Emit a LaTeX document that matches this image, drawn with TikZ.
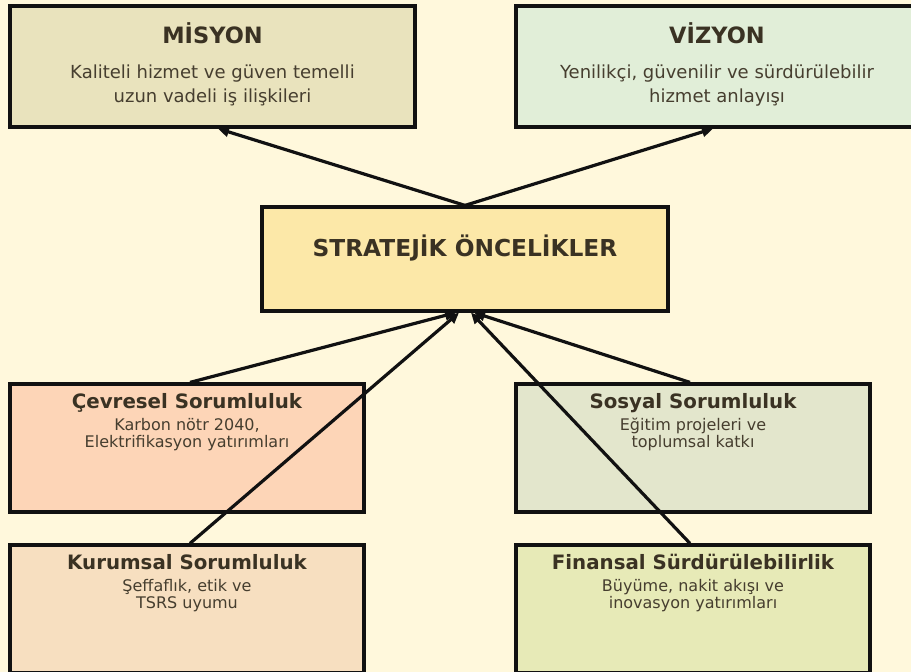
\documentclass[tikz,border=0pt]{standalone}
\usepackage{fontspec}
\setmainfont{DejaVu Sans}
\usetikzlibrary{arrows.meta,calc}

\definecolor{bgcol}{HTML}{FFF8DC}
\definecolor{edgecol}{HTML}{111111}
\definecolor{titlecol}{HTML}{3A3223}
\definecolor{bodycol}{HTML}{463E2F}
\definecolor{misyonfill}{HTML}{E9E3BD}
\definecolor{vizyonfill}{HTML}{E1EED8}
\definecolor{stratfill}{HTML}{FCE8A8}
\definecolor{cevrefill}{HTML}{FDD5B7}
\definecolor{sosyalfill}{HTML}{E3E6CC}
\definecolor{kurumfill}{HTML}{F7DFC0}
\definecolor{finansfill}{HTML}{E7EAB7}

\begin{document}
\begin{tikzpicture}[x=1pt,y=-1pt,
  panel/.style={draw=edgecol, line width=3.2pt, inner sep=0pt},
  bigtitle/.style={anchor=base, inner sep=0pt, text=titlecol, font=\bfseries\fontsize{22.5}{26}\selectfont},
  bigtext/.style={anchor=base, inner sep=0pt, text=bodycol, font=\fontsize{18}{21}\selectfont},
  smalltitle/.style={anchor=base, inner sep=0pt, text=titlecol, font=\bfseries\fontsize{19.8}{23}\selectfont},
  smalltext/.style={anchor=base, inner sep=0pt, text=bodycol, font=\fontsize{16}{19}\selectfont},
  arr/.style={draw=edgecol, line width=3.2pt, -{Triangle[length=11pt,width=10pt]}}]

% canvas
\fill[bgcol] (0,0) rectangle (911,672);
\useasboundingbox (0,0) rectangle (911,672);

% panels
\node[panel, fill=misyonfill, minimum width=405pt, minimum height=121pt] (misyon) at (212.5,66.5) {};
\node[panel, fill=vizyonfill, minimum width=402pt, minimum height=121pt] (vizyon) at (717,66.5) {};
\node[panel, fill=stratfill,  minimum width=406pt, minimum height=104pt] (strat)  at (465,259) {};
\node[panel, fill=cevrefill,  minimum width=354pt, minimum height=128pt] (cevre)  at (187,448) {};
\node[panel, fill=sosyalfill, minimum width=354pt, minimum height=128pt] (sosyal) at (693,448) {};
\node[panel, fill=kurumfill,  minimum width=354pt, minimum height=128pt] (kurum)  at (187,609) {};
\node[panel, fill=finansfill, minimum width=354pt, minimum height=128pt] (finans) at (693,609) {};

% top panels
\node[bigtitle] (misyonT)  at ($(misyon.north)+(0,39)$) {MİSYON};
\node[bigtext]  (misyonL1) at ($(misyon.north)+(0,74.5)$) {Kaliteli hizmet ve güven temelli};
\node[bigtext]  (misyonL2) at ($(misyon.north)+(0,98.5)$) {uzun vadeli iş ilişkileri};

\node[bigtitle] (vizyonT)  at ($(vizyon.north)+(0,39)$) {VİZYON};
\node[bigtext]  (vizyonL1) at ($(vizyon.north)+(0,74.5)$) {Yenilikçi, güvenilir ve sürdürülebilir};
\node[bigtext]  (vizyonL2) at ($(vizyon.north)+(0,98.5)$) {hizmet anlayışı};

% centre panel
\node[bigtitle, font=\bfseries\fontsize{23.3}{27}\selectfont] (stratT) at ($(strat.north)+(0,51)$) {STRATEJİK ÖNCELİKLER};

% bottom panels
\node[smalltitle] (cevreT)  at ($(cevre.north)+(0,26)$) {Çevresel Sorumluluk};
\node[smalltext]  (cevreL1) at ($(cevre.north)+(0,48)$) {Karbon nötr 2040,};
\node[smalltext]  (cevreL2) at ($(cevre.north)+(0,65.5)$) {Elektrifikasyon yatırımları};

\node[smalltitle] (sosyalT)  at ($(sosyal.north)+(0,26)$) {Sosyal Sorumluluk};
\node[smalltext]  (sosyalL1) at ($(sosyal.north)+(0,48)$) {Eğitim projeleri ve};
\node[smalltext]  (sosyalL2) at ($(sosyal.north)+(0,65.5)$) {toplumsal katkı};

\node[smalltitle] (kurumT)  at ($(kurum.north)+(0,26)$) {Kurumsal Sorumluluk};
\node[smalltext]  (kurumL1) at ($(kurum.north)+(0,48)$) {Şeffaflık, etik ve};
\node[smalltext]  (kurumL2) at ($(kurum.north)+(0,65.5)$) {TSRS uyumu};

\node[smalltitle] (finansT)  at ($(finans.north)+(0,26)$) {Finansal Sürdürülebilirlik};
\node[smalltext]  (finansL1) at ($(finans.north)+(0,48)$) {Büyüme, nakit akışı ve};
\node[smalltext]  (finansL2) at ($(finans.north)+(0,65.5)$) {inovasyon yatırımları};

% connectors
\draw[arr] (strat.north) -- ($(misyon.south)+(5.5,0)$);
\draw[arr] (strat.north) -- ($(vizyon.south)+(-4,0)$);
\draw[arr] ($(cevre.north)+(3,0)$)  -- ($(strat.south)+(-9,0)$);
\draw[arr] ($(kurum.north)+(3,0)$)  -- ($(strat.south)+(-6,0)$);
\draw[arr] ($(sosyal.north)+(-3,0)$) -- ($(strat.south)+(9,0)$);
\draw[arr] ($(finans.north)+(-3,0)$) -- ($(strat.south)+(6,0)$);
\end{tikzpicture}
\end{document}
